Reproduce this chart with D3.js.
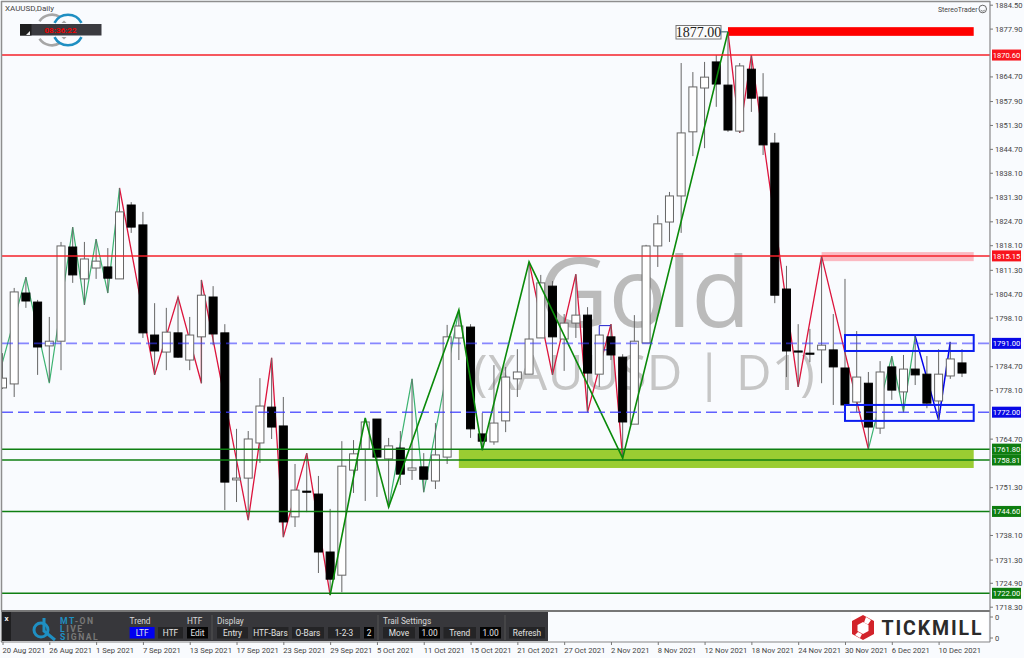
<!DOCTYPE html>
<html><head><meta charset="utf-8">
<script src="https://cdnjs.cloudflare.com/ajax/libs/d3/7.8.5/d3.min.js"></script>
<style>html,body{margin:0;padding:0;background:#f9fbfe;overflow:hidden}svg{display:block}text{font-family:Roboto,sans-serif}</style>
</head><body><svg id="c" width="1024" height="658"></svg>
<script>
const opens=[1778.7,1779.8,1804.9,1802.4,1790.3,1791.6,1817.6,1808.8,1811.8,1812.1,1808.8,1829.2,1823.7,1793.3,1788.6,1793.9,1786.4,1792.8,1803.8,1793.9,1753.3,1753.8,1763.5,1773.4,1768.2,1743.1,1750.2,1749.4,1733.4,1727.0,1756.0,1761.8,1770.1,1759.1,1762.1,1756.0,1756.9,1753.0,1759.6,1792.5,1795.5,1766.0,1763.8,1769.6,1781.2,1782.5,1792.5,1806.8,1792.2,1796.6,1798.8,1782.5,1792.8,1787.2,1768.7,1791.1,1817.9,1824.5,1831.7,1849.4,1861.5,1868.7,1862.3,1849.6,1866.7,1859.0,1846.3,1806.0,1788.9,1788.3,1789.2,1789.2,1784.2,1774.8,1780.0,1767.6,1784.5,1777.6,1783.9,1782.5,1775.1,1782.0,1785.6];
const closes=[1781.4,1805.2,1802.7,1790.0,1791.6,1817.9,1809.9,1814.3,1813.7,1809.0,1827.3,1823.1,1793.9,1788.9,1794.1,1787.2,1793.3,1804.3,1793.6,1752.7,1753.8,1764.6,1773.7,1767.9,1741.7,1750.5,1749.9,1733.4,1725.9,1757.1,1760.5,1769.3,1759.6,1762.7,1754.9,1756.6,1753.5,1760.2,1792.8,1795.8,1767.4,1764.0,1769.0,1781.7,1783.1,1792.2,1807.7,1792.8,1796.6,1798.8,1782.8,1793.3,1787.8,1769.3,1791.6,1817.9,1824.0,1831.7,1849.1,1861.8,1864.5,1862.6,1849.9,1867.6,1858.7,1845.8,1804.3,1788.9,1788.6,1788.0,1790.5,1784.5,1774.0,1781.7,1767.9,1783.1,1778.1,1783.9,1782.3,1774.5,1782.5,1786.7,1782.8];
const highs=[1788.3,1806.3,1809.3,1803.0,1798.3,1819.0,1823.1,1819.0,1819.8,1817.3,1833.9,1830.0,1827.3,1802.1,1800.8,1803.8,1798.3,1808.5,1806.8,1796.3,1767.4,1766.8,1781.4,1787.0,1776.2,1757.7,1760.7,1754.4,1745.3,1764.0,1764.3,1770.4,1770.1,1764.9,1766.8,1781.2,1760.7,1769.0,1796.1,1800.2,1796.3,1771.8,1785.0,1784.5,1789.4,1813.5,1809.9,1808.2,1799.1,1810.1,1801.0,1793.3,1796.3,1788.0,1798.8,1818.2,1826.4,1832.8,1868.4,1865.9,1868.7,1870.6,1877.0,1868.4,1870.6,1865.6,1849.1,1812.4,1796.3,1795.0,1815.1,1799.1,1808.8,1794.4,1783.1,1786.1,1787.5,1787.8,1793.0,1787.5,1789.4,1791.4,1789.4];
const lows=[1778.4,1776.2,1800.8,1782.3,1780.3,1783.6,1807.7,1801.6,1808.8,1804.9,1808.8,1821.5,1792.5,1782.3,1783.6,1787.0,1783.6,1780.0,1790.5,1745.0,1747.2,1742.2,1758.0,1764.6,1737.5,1740.3,1744.4,1727.6,1721.5,1722.3,1749.7,1747.5,1748.6,1745.8,1751.9,1753.3,1749.9,1750.8,1757.7,1786.4,1764.9,1761.5,1763.0,1766.5,1776.2,1782.5,1792.5,1782.3,1783.4,1792.5,1772.0,1779.0,1786.4,1759.3,1768.7,1791.1,1812.1,1819.0,1821.5,1842.7,1844.9,1856.3,1849.4,1849.1,1854.9,1843.0,1802.1,1781.7,1779.0,1785.8,1780.0,1774.0,1774.0,1772.0,1761.8,1766.0,1775.4,1772.0,1779.5,1773.1,1769.8,1781.2,1781.7];

const tickBars=[0,4,8,12,16,20,24,28,32,36,40,44,48,52,56,60,64,68,72,76,80];
const tickLabels=["20 Aug 2021","26 Aug 2021","1 Sep 2021","7 Sep 2021","13 Sep 2021","17 Sep 2021","23 Sep 2021","29 Sep 2021","5 Oct 2021","11 Oct 2021","15 Oct 2021","21 Oct 2021","27 Oct 2021","2 Nov 2021","8 Nov 2021","12 Nov 2021","18 Nov 2021","24 Nov 2021","30 Nov 2021","6 Dec 2021","10 Dec 2021"];
const priceTicks=[1884.5,1877.9,1864.7,1857.9,1851.3,1844.7,1838.1,1831.3,1824.7,1818.1,1811.3,1804.7,1798.1,1784.7,1778.1,1764.7,1751.3,1738.1,1731.3,1724.9,1718.3];

const minorUp1=[[0,1785.8],[2,1809.3],[4,1780.0],[6,1823.1],[7,1801.6],[8,1819.8],[9,1804.9],[10,1833.9]];
const minorDown1=[[10,1833.9],[13,1782.3],[15,1803.8],[17,1780.0],[17,1808.5],[21,1742.2],[23,1787.0],[24,1737.5],[26,1760.7],[28,1721.5]];
const minorUp2=[[33,1745.8],[35,1781.2],[36,1749.9],[39,1800.2]];
const minorDown2=[[45,1813.5],[47,1782.3],[49,1810.1],[50,1772.0],[52,1796.3],[53,1759.3]];
const minorDown3=[[62,1877.0],[63,1849.1],[64,1870.6],[68,1779.0],[70,1815.1],[74,1761.8]];
const minorUp3=[[74,1761.8],[76,1787.5],[77,1772.0],[78,1793.0]];
const blueSwing=[[78,1793.0],[80,1769.8],[81,1791.4]];
const majorSwing=[[28,1721.5],[31,1770.4],[33,1745.8],[39,1800.2],[41,1761.5],[45,1813.5],[53,1759.3],[62,1877.0]];

const redLevels=[1870.60,1815.15];
const blueLevels=[1791.00,1772.00];
const greenLevels=[1761.80,1758.81,1744.60,1722.00];

const redZone=[62,1878.3,1875.9];
const pinkZone=[70,1816.2,1813.7];
const greenZone=[39,1761.8,1756.6];
const rangeBoxes=[[72,1793.3,1788.9],[72,1774.0,1769.6]];
const zoneEndBar=83;
const smallBox=[51,52,1795.9,1789.2];

const N=opens.length;
const x=d3.scaleLinear().domain([0,82]).range([2.5,962]);
const y=d3.scaleLinear().domain([1884.5,1718.3]).range([4.7,606.7]);
const svg=d3.select("#c");
const bg="#f9fbfe";
svg.append("rect").attr("width",1024).attr("height",658).attr("fill",bg);
svg.append("defs").append("clipPath").attr("id","cp").append("rect").attr("x",2).attr("y",2).attr("width",988).attr("height",608);

// watermark
svg.append("text").attr("x",538).attr("y",327).text("Gold").style("font-family","'Open Sans'").style("font-size","97px").attr("fill","#bbbbbb");
svg.append("text").attr("x",473).attr("y",390).text("(XAUUSD | D1)").style("font-family","'Open Sans'").style("font-size","49px").style("letter-spacing","0.3px").attr("fill","#c6c6c6");

const chart=svg.append("g").attr("clip-path","url(#cp)");
function zone(z,fill){chart.append("rect").attr("x",x(z[0])).attr("width",x(zoneEndBar)-x(z[0])).attr("y",y(z[1])).attr("height",y(z[2])-y(z[1])).attr("fill",fill);}
zone(greenZone,"#9acd32");
zone(pinkZone,"#fbb9c2");
zone(redZone,"#ff0000");

const line=d3.line().x(d=>x(d[0])).y(d=>y(d[1]));
function swing(data,color,w){chart.append("path").attr("d",line(data)).attr("fill","none").attr("stroke",color).attr("stroke-width",w).attr("stroke-linejoin","miter");}
[minorUp1,minorUp2,minorUp3].forEach(s=>swing(s,"#3cb371",1.2));
[minorDown1,minorDown2,minorDown3].forEach(s=>swing(s,"#dc143c",1.3));
swing(blueSwing,"#0000ee",1.5);

// small blue marker
chart.append("path").attr("fill","none").attr("stroke","#2222cc").attr("stroke-width",1)
 .attr("d",`M${x(smallBox[1])},${y(smallBox[2])}H${x(smallBox[0])}V${y(smallBox[3])-5}M${x(smallBox[0])},${y(smallBox[3])}H${x(smallBox[1])}`);

// candles
const bw=8;
const candles=chart.selectAll(".cd").data(d3.range(N)).join("g");
candles.append("line").attr("x1",i=>x(i)).attr("x2",i=>x(i)).attr("y1",i=>y(highs[i])).attr("y2",i=>y(lows[i])).attr("stroke","#666").attr("stroke-width",1);
candles.append("rect").attr("x",i=>x(i)-bw/2).attr("width",bw)
 .attr("y",i=>y(Math.max(opens[i],closes[i])))
 .attr("height",i=>Math.max(1,Math.abs(y(opens[i])-y(closes[i]))))
 .attr("fill",i=>closes[i]>=opens[i]?"#ffffff":"#000000")
 .attr("stroke",i=>closes[i]>=opens[i]?"#666":"#000").attr("stroke-width",1);

swing(majorSwing,"#0a8a0a",1.6);

// range boxes
rangeBoxes.forEach(b=>chart.append("rect").attr("x",x(b[0])).attr("width",x(zoneEndBar)-x(b[0])).attr("y",y(b[1])).attr("height",y(b[2])-y(b[1])).attr("fill","none").attr("stroke","#0b1df0").attr("stroke-width",2));

// levels
const xL=2,xR=990;
redLevels.forEach(v=>chart.append("line").attr("x1",xL).attr("x2",xR).attr("y1",y(v)).attr("y2",y(v)).attr("stroke","#f5222a").attr("stroke-width",1.5));
blueLevels.forEach((v,i)=>chart.append("line").attr("x1",xL).attr("x2",xR).attr("y1",y(v)).attr("y2",y(v)).attr("stroke","#3a3aff").attr("stroke-opacity",i?0.8:0.6).attr("stroke-width",i?1.4:1.8).attr("stroke-dasharray","11,5"));
greenLevels.forEach(v=>chart.append("line").attr("x1",xL).attr("x2",xR).attr("y1",y(v)).attr("y2",y(v)).attr("stroke","#0f7f12").attr("stroke-width",1.5));

// peak label
const pk=y(1877);
svg.append("line").attr("x1",721).attr("x2",x(62)).attr("y1",pk).attr("y2",pk).attr("stroke","#2a5a5a").attr("stroke-width",1);
svg.append("rect").attr("x",676).attr("y",25.5).attr("width",45).attr("height",13.5).attr("fill","#fbfbfb").attr("stroke","#777").attr("stroke-width",1);
svg.append("text").attr("x",698.5).attr("y",37).attr("text-anchor","middle").text("1877.00").style("font-family","'Liberation Serif'").style("font-size","14px").attr("fill","#222");

// frame
const frame="#8e8e8e";
svg.append("line").attr("x1",1).attr("x2",990).attr("y1",1.5).attr("y2",1.5).attr("stroke",frame).attr("stroke-width",1.5);
svg.append("line").attr("x1",1.5).attr("x2",1.5).attr("y1",1).attr("y2",642).attr("stroke",frame).attr("stroke-width",1.5);
svg.append("line").attr("x1",1).attr("x2",990).attr("y1",611).attr("y2",611).attr("stroke","#777").attr("stroke-width",2.2);

// axes
const fs="7.6px";
const ax=svg.append("g").attr("transform","translate(990,0)").call(d3.axisRight(y).tickValues(priceTicks).tickFormat(d3.format(".2f")).tickSize(3).tickPadding(2));
ax.selectAll("path").attr("d","M0,1V642").attr("stroke","#888").attr("stroke-width",1.2);
ax.selectAll("line").attr("stroke","#777");
ax.selectAll("text").style("font-size",fs).attr("fill","#444").style("font-family","Roboto");
const bx=svg.append("g").attr("transform","translate(0,642)").call(d3.axisBottom(x).tickValues(tickBars).tickFormat((d,i)=>tickLabels[i]).tickSize(3).tickPadding(3));
bx.selectAll("path").attr("d","M1,0H990").attr("stroke","#888").attr("stroke-width",1.2);
bx.selectAll("line").attr("stroke","#777");
bx.selectAll("text").style("font-size",fs).attr("fill","#444").attr("text-anchor","start").attr("dx","-0.5").style("font-family","Roboto");

// price tags
function tag(v,color){
 const t=y(v);
 svg.append("rect").attr("x",992).attr("y",t-5.5).attr("width",29).attr("height",11).attr("fill",color);
 svg.append("text").attr("x",1006.5).attr("y",t+3).attr("text-anchor","middle").text(d3.format(".2f")(v)).style("font-size",fs).attr("fill","#fff");
}
redLevels.forEach(v=>tag(v,"#f8141c"));
blueLevels.forEach(v=>tag(v,"#0808e6"));
greenLevels.forEach(v=>tag(v,"#0e7d10"));

// sub window labels
[617,638].forEach(t=>svg.append("text").attr("x",995).attr("y",t+3).text("0").style("font-size",fs).attr("fill","#444"));
[617,638].forEach(t=>svg.append("line").attr("x1",990).attr("x2",993).attr("y1",t).attr("y2",t).attr("stroke","#777"));

// top-left
svg.append("text").attr("x",5).attr("y",11).text("XAUUSD,Daily").style("font-size","8px").attr("fill","#444");
const deg=Math.PI/180;
const ring=d3.arc().innerRadius(14).outerRadius(16.6);
[[52,"#a6a6a6",[[-55,32],[148,235]]],[68,"#1f8fc2",[[-62,62],[118,242]]]].forEach(([cx,col,spans])=>{
 spans.forEach(([a,b])=>svg.append("path").attr("transform",`translate(${cx},30)`).attr("d",ring({startAngle:a*deg,endAngle:b*deg})).attr("fill",col));
});
svg.append("path").attr("d","M61.5,23L64,20.5L66.5,23Z").attr("fill","#a6a6a6");
svg.append("path").attr("d","M61.5,37L64,39.5L66.5,37Z").attr("fill","#a6a6a6");
svg.append("rect").attr("x",20).attr("y",24).attr("width",81.5).attr("height",11.5).attr("fill","#3b3b40");
svg.append("rect").attr("x",20).attr("y",24).attr("width",11.5).attr("height",11.5).attr("fill","#1e1e1e");
svg.append("path").attr("d","M26,35L30,31V35Z").attr("fill","#eee");
svg.append("text").attr("x",60.5).attr("y",32.6).attr("text-anchor","middle").text("08:36:22").style("font-size","8px").style("font-weight","700").attr("fill","#f00000");

// top-right
svg.append("text").attr("x",938).attr("y",11.5).text("StereoTrader").attr("textLength",39.5).attr("lengthAdjust","spacingAndGlyphs").style("font-size","8px").attr("fill","#444");
svg.append("circle").attr("cx",982.7).attr("cy",9).attr("r",3.8).attr("fill","none").attr("stroke","#555").attr("stroke-width",0.9);
svg.append("path").attr("d","M980.6,10.2Q982.7,12.2 984.8,10.2").attr("fill","none").attr("stroke","#555").attr("stroke-width",0.7);

// toolbar
const tb=svg.append("g");
tb.append("rect").attr("x",2).attr("y",612).attr("width",546).attr("height",29).attr("fill","#37373b");
tb.append("rect").attr("x",2).attr("y",612).attr("width",9).attr("height",29).attr("fill","#1f1f21");
tb.append("text").attr("x",6.5).attr("y",621).attr("text-anchor","middle").text("x").style("font-size","8px").style("font-weight","700").attr("fill","#eee");
tb.append("circle").attr("cx",41).attr("cy",630).attr("r",7).attr("fill","none").attr("stroke","#1f8fc2").attr("stroke-width",3);
tb.append("path").attr("d","M44,618V631L55,640").attr("fill","none").attr("stroke","#1f8fc2").attr("stroke-width",3);
const logoLines=[[623.5,"MT","-ON"],[632,"L","IVE"],[640,"S","IGNAL"]];
logoLines.forEach(([yy,a,b])=>{
 const t=tb.append("text").attr("x",60).attr("y",yy).style("font-size","8.6px").style("font-weight","700").style("letter-spacing","1.5px");
 t.append("tspan").text(a).attr("fill","#1f8fc2");
 t.append("tspan").text(b).attr("fill","#777");
});
const heads=[["Trend",129.5],["HTF",187],["Display",217],["Trail Settings",383]];
heads.forEach(([s,xx])=>tb.append("text").attr("x",xx).attr("y",623.5).text(s).style("font-size","8.3px").attr("fill","#d8d8d8"));
[212,378,505].forEach(xx=>tb.append("line").attr("x1",xx).attr("x2",xx).attr("y1",615).attr("y2",640).attr("stroke","#555"));
const buttons=[["LTF",129.6,154.6,"#0000f0"],["HTF",158,183,"#242426"],["Edit",187,208,"#050505"],["Entry",217,248,"#242426"],["HTF-Bars",252.5,288.5,"#242426"],["O-Bars",292,324,"#242426"],["1-2-3",328,360,"#242426"],["2",364,374,"#050505"],["Move",383,415,"#242426"],["1.00",419,440,"#050505"],["Trend",443.5,476,"#242426"],["1.00",480,501,"#050505"],["Refresh",509,545,"#242426"]];
buttons.forEach(([s,a,b,c])=>{
 tb.append("rect").attr("x",a).attr("y",627).attr("width",b-a).attr("height",11.5).attr("fill",c);
 tb.append("text").attr("x",(a+b)/2).attr("y",635.7).attr("text-anchor","middle").text(s).style("font-size","8.3px").attr("fill","#e4e4e4");
});

// tickmill logo
svg.append("rect").attr("x",851).attr("y",612.5).attr("width",137).attr("height",28.5).attr("fill","#ffffff");
svg.append("path").attr("d","M863,615L874,621V634L863,640L852,634V621Z").attr("fill","#d2232a");
svg.append("path").attr("d","M863,622L868.5,625V631L863,634L857.5,631V625Z").attr("fill","#fff");
svg.append("path").attr("d","M866,617L871,620L868,624.5L864,622.5Z").attr("fill","#fff");
svg.append("path").attr("d","M858,632L862,634L860,638L855,635Z").attr("fill","#fff");
svg.append("text").attr("x",881.5).attr("y",635).text("TICKMILL").attr("textLength",100).attr("lengthAdjust","spacing").style("font-size","19.5px").style("font-weight","700").attr("fill","#2b2b2b");
</script></body></html>
